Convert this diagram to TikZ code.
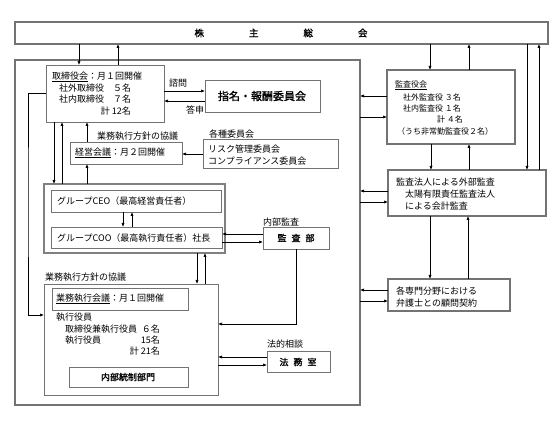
\documentclass[tikz,border=0pt]{standalone}
\usepackage{fontspec}
\setmainfont{Noto Sans CJK JP}[AutoFakeBold=1.6]
\usetikzlibrary{arrows.meta}
\newcommand\bx[6]{\node[#6, minimum width=#4pt-#2pt, minimum height=#5pt-#3pt] (#1) at ({(#2+#4)/2},{(#3+#5)/2}) {};}
\begin{document}
\begin{tikzpicture}[x=1pt,y=-1pt,
  txt/.style={inner sep=0pt, anchor=west, font=\fontsize{9}{10}\selectfont},
  stxt/.style={inner sep=0pt, anchor=west, font=\fontsize{8}{9}\selectfont},
  boxthin/.style={draw=black!55, line width=0.9pt, fill=white, inner sep=0pt, outer sep=0pt},
  boxmid/.style={draw=black!50, line width=1.4pt, fill=white, inner sep=0pt, outer sep=0pt},
  boxthick/.style={draw=black!55, line width=1.9pt, fill=white, inner sep=0pt, outer sep=0pt},
  arr/.style={-{Latex[length=4pt,width=3.2pt]}, line width=0.7pt},
  ln/.style={line width=0.7pt}]
\useasboundingbox (0,0) rectangle (558,425);

% ---- boxes
\bx{kabu}{15}{22}{548}{44}{boxthick}
\bx{comp}{15}{60}{360}{405}{boxthick}
\bx{tori}{46}{65}{164}{122}{boxthin}
\bx{shimei}{205}{80}{320}{112}{boxthin}
\bx{kakushu}{203}{139}{338}{168}{boxthin}
\bx{keiei}{70}{142}{182}{164}{boxthin}
\bx{group}{44}{184}{225}{253}{boxmid}
\bx{ceo}{51}{190}{221}{212}{boxthin}
\bx{coo}{51}{227}{222}{248}{boxthin}
\bx{kansa}{263}{227}{329}{249}{boxthin}
\bx{gyomu}{44}{284}{218}{395}{boxthin}
\bx{gkaigi}{52}{288}{188}{310}{boxthin}
\bx{naibu}{69}{367}{188}{387}{boxthin}
\bx{homu}{267}{351}{330}{372}{boxthin}
\bx{kansayaku}{387}{70}{515}{144}{boxthick}
\bx{hojin}{388}{170}{546}{216}{boxthick}
\bx{bengo}{388}{279}{510}{311}{boxthick}

% ---- texts
\node[inner sep=0pt, font=\fontsize{9.5}{10}\selectfont\bfseries] (tkabu) at (281,33) {株\hspace{45pt}主\hspace{45pt}総\hspace{45pt}会};

\node[txt] (tt1) at (52,77) {\underline{取締役会}：月１回開催};
\node[txt] (tt2) at (59,88) {社外取締役　５名};
\node[txt] (tt3) at (59,99) {社内取締役　７名};
\node[txt,anchor=east] (tt4) at (131,111) {計 12名};

\node[txt] (lshimon) at (169,83) {諮問};
\node[txt] (ltoshin) at (186,110) {答申};
\node[inner sep=0pt, font=\fontsize{11}{12}\selectfont\bfseries] (tshimei) at (262,96) {指名・報酬委員会};

\node[txt] (lkakushu) at (209,134) {各種委員会};
\node[txt] (tk1) at (208,149) {リスク管理委員会};
\node[txt] (tk2) at (208,161) {コンプライアンス委員会};

\node[txt] (lhoshin1) at (97,136) {業務執行方針の協議};
\node[txt] (tkeiei) at (75,153) {\underline{経営会議}：月２回開催};

\node[txt] (tceo) at (57,201) {グループCEO（最高経営責任者）};
\node[txt] (tcoo) at (57,238) {グループCOO（最高執行責任者）社長};

\node[txt] (lnaibu) at (263,222) {内部監査};
\node[inner sep=0pt, font=\fontsize{9}{10}\selectfont\bfseries] (tkansa) at (296,238) {監\hspace{5pt}査\hspace{5pt}部};

\node[txt] (lhoshin2) at (45,277) {業務執行方針の協議};
\node[txt] (tg1) at (56,299) {\underline{業務執行会議}：月１回開催};
\node[txt] (tg2) at (56,317) {執行役員};
\node[txt] (tg3) at (65,329) {取締役兼執行役員};
\node[txt,anchor=east] (tg3n) at (160,329) {６名};
\node[txt] (tg4) at (65,340) {執行役員};
\node[txt,anchor=east] (tg4n) at (160,340) {15名};
\node[txt,anchor=east] (tg5) at (160,351) {計 21名};
\node[inner sep=0pt, font=\fontsize{9}{10}\selectfont\bfseries] (tnaibu) at (128,377) {内部統制部門};

\node[txt] (lhoteki) at (267,344) {法的相談};
\node[inner sep=0pt, font=\fontsize{9}{10}\selectfont\bfseries] (thomu) at (298,362) {法\hspace{5pt}務\hspace{5pt}室};

\node[stxt] (ty1) at (395,85) {\underline{監査役会}};
\node[stxt] (ty2) at (403,97) {社外監査役 ３名};
\node[stxt] (ty3) at (403,108) {社内監査役 １名};
\node[stxt,anchor=east] (ty4) at (463,119) {計 ４名};
\node[stxt] (ty5) at (397,131) {（うち非常勤監査役２名）};

\node[txt] (th1) at (396,182) {監査法人による外部監査};
\node[txt] (th2) at (405,194) {太陽有限責任監査法人};
\node[txt] (th3) at (405,206) {による会計監査};

\node[txt] (tb1) at (396,291) {各専門分野における};
\node[txt] (tb2) at (396,303) {弁護士との顧問契約};

% ---- connectors
\draw[arr] (kabu.south -| 79,0) -- (tori.north -| 79,0);
\draw[arr] (tori.north -| 118,0) -- (kabu.south -| 118,0);
\draw[arr] (kabu.south -| 430,0) -- (kansayaku.north -| 430,0);
\draw[arr] (kansayaku.north -| 469,0) -- (kabu.south -| 469,0);
\draw[arr] (kabu.south -| 527,0) -- (hojin.north -| 527,0);
\draw[arr] (hojin.north -| 539,0) -- (kabu.south -| 539,0);

\draw[arr] (tori.east |- 0,91) -- (shimei.west |- 0,91);
\draw[arr] (shimei.west |- 0,101) -- (tori.east |- 0,101);
\draw[arr] (kakushu.west |- 0,154) -- (keiei.east |- 0,154);
\draw[arr] (keiei.north -| 87,0) -- (tori.south -| 87,0);
\draw[arr] (group.north -| 87,0) -- (keiei.south -| 87,0);
\draw[arr] (tori.south -| 54,0) -- (group.north -| 54,0);
\draw[arr] (group.north -| 62,0) -- (tori.south -| 62,0);
\draw[arr] (tori.west |- 0,93) -| (28,200) |- (gyomu.west |- 0,315);

\draw[arr] (ceo.south -| 123,0) -- (coo.north -| 123,0);
\draw[arr] (coo.north -| 132,0) -- (ceo.south -| 132,0);
\draw[arr] (group.south -| 197,0) -- (gyomu.north -| 197,0);
\draw[arr] (gyomu.north -| 205,0) -- (group.south -| 205,0);

\draw[arr] (kansa.west |- 0,234) -- (coo.east |- 0,234);
\draw[arr] (coo.east |- 0,242) -- (kansa.west |- 0,242);
\draw[arr] (kansa.south) |- (gyomu.east |- 0,324);
\draw[arr] (homu.west |- 0,357) -- (gyomu.east |- 0,357);
\draw[arr] (gyomu.east |- 0,365) -- (homu.west |- 0,365);

\draw[arr] (kansayaku.west |- 0,96) -- (comp.east |- 0,96);
\draw[arr] (comp.east |- 0,117) -- (kansayaku.west |- 0,117);
\draw[arr] (hojin.west |- 0,191) -- (comp.east |- 0,191);
\draw[arr] (comp.east |- 0,202) -- (hojin.west |- 0,202);
\draw[arr] (bengo.west |- 0,290) -- (comp.east |- 0,290);
\draw[arr] (comp.east |- 0,301) -- (bengo.west |- 0,301);

\draw[arr] (kansayaku.south -| 431,0) -- (hojin.north -| 431,0);
\draw[arr] (hojin.north -| 469,0) -- (kansayaku.south -| 469,0);
\draw[arr] (hojin.south -| 430,0) -- (bengo.north -| 430,0);
\draw[arr] (bengo.north -| 468,0) -- (hojin.south -| 468,0);
\end{tikzpicture}
\end{document}
